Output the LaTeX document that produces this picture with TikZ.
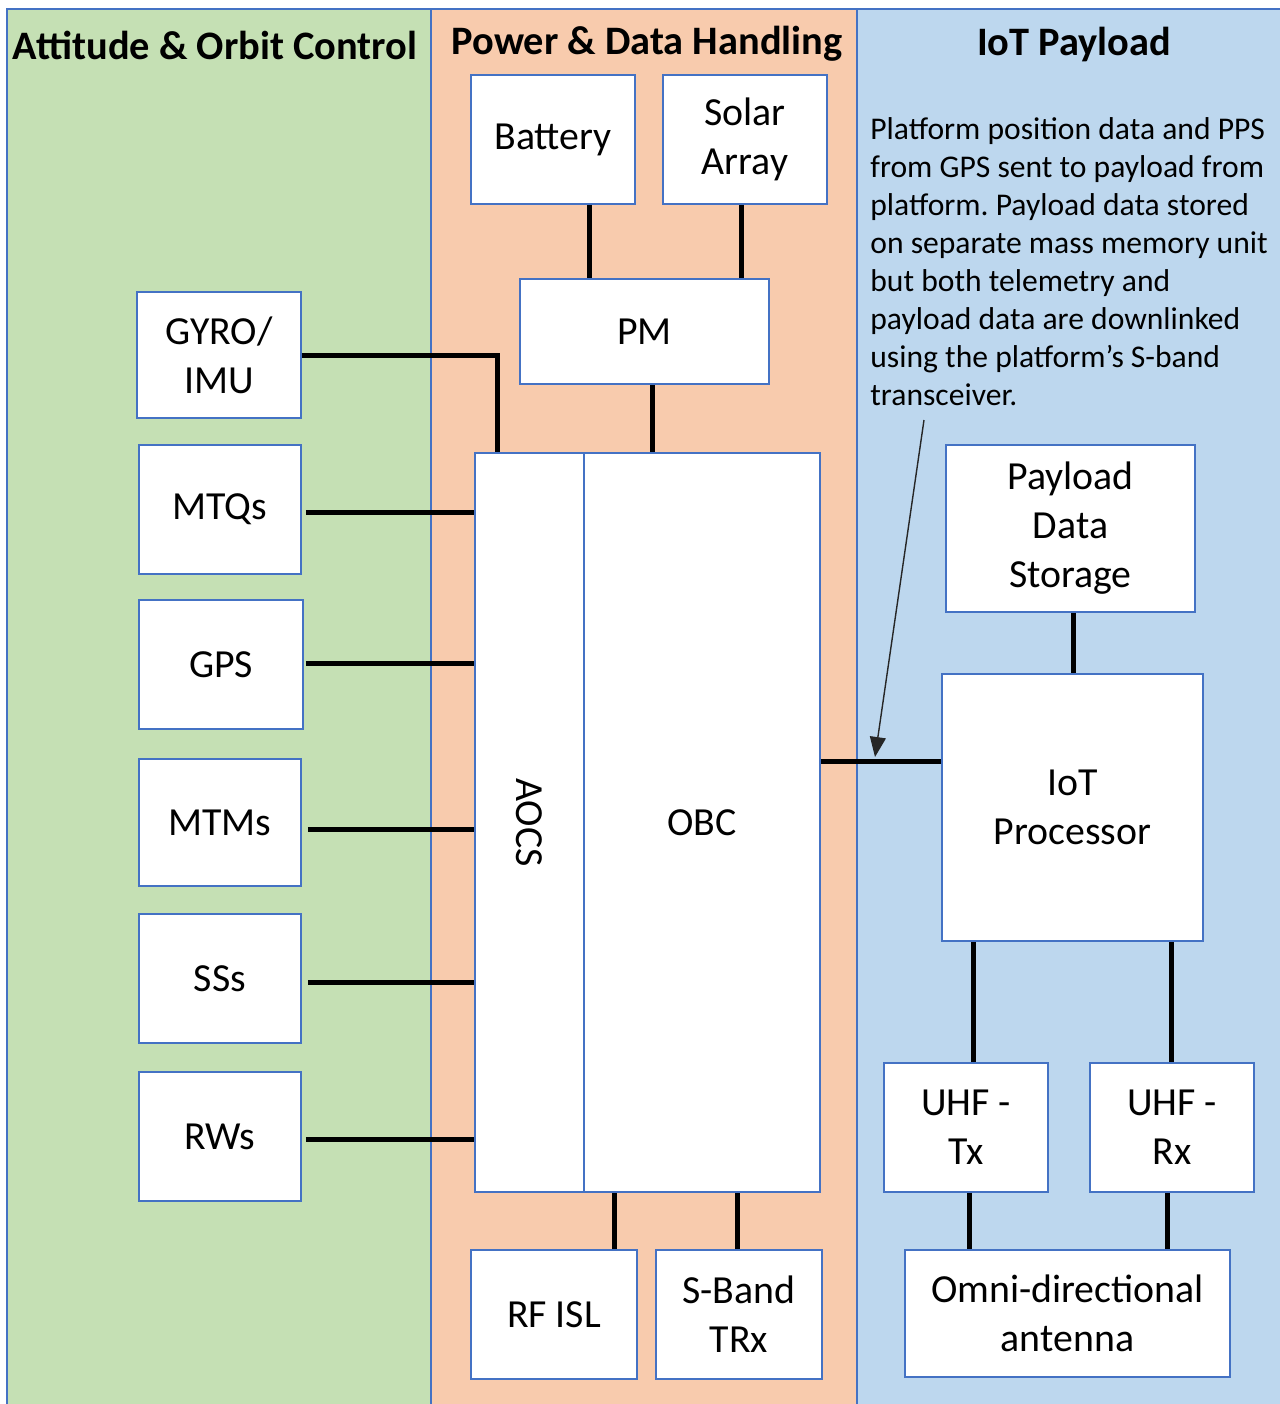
\documentclass[tikz,border=0pt]{standalone}
\usepackage{fontspec}
\setmainfont{Carlito}
\usetikzlibrary{arrows.meta}
\definecolor{aocsgreen}{HTML}{C5E0B4}
\definecolor{pdhorange}{HTML}{F8CBAD}
\definecolor{iotblue}{HTML}{BDD7EE}
\definecolor{edgeblue}{HTML}{4472C4}
\frenchspacing

% \blk{name}{left}{top}{right}{bottom}{text}: a white block given by its corners
\newcommand\blk[7][]{%
  \node[box, #1, minimum width={(#5-#3)*0.5pt}, minimum height={(#6-#4)*0.5pt}]
    (#2) at ({(#3+#5)/2},{(#4+#6)/2}) {#7};}

\begin{document}
\begin{tikzpicture}[x=0.5pt,y=-0.5pt,
  box/.style={draw=edgeblue, line width=0.9pt, fill=white, inner sep=0pt,
    align=center, font=\fontsize{19.9}{24.5}\selectfont},
  panel/.style={draw=edgeblue, line width=1pt},
  link/.style={line width=2.5pt, black},
  header/.style={font=\bfseries\fontsize{20.2}{24}\selectfont},
  note/.style={align=left, inner sep=0pt, font=\fontsize{15.8}{19}\selectfont}]

\useasboundingbox (0,0) rectangle (1280,1404);
\fill[white] (0,0) rectangle (1280,1404);
\begin{scope}
\clip (0,0) rectangle (1280,1404);
% subsystem panels
\draw[panel, fill=aocsgreen] (7,9) rectangle (431,1420);
\draw[panel, fill=pdhorange] (431,9) rectangle (857,1420);
\draw[panel, fill=iotblue] (857,9) rectangle (1300,1420);
\end{scope}

\node[header] (hA) at (215,45) {Attitude \& Orbit Control};
\node[header] (hP) at (647,44) {Power \& Data Handling};
\node[header] (hI) at (1074,44) {IoT Payload};

% power and data handling
\blk{bat}{471}{75}{635}{204}{Battery}
\blk{sol}{663}{75}{827}{204}{Solar\\Array}
\blk{pm}{520}{279}{769}{384}{PM}
\blk{aocs}{475}{453}{584}{1192}{}
\node[rotate=-90, font=\fontsize{19.9}{24.5}\selectfont] (aocslbl) at (aocs.center) {AOCS};
\blk{obc}{584}{453}{820}{1192}{OBC}
\blk{rf}{471}{1250}{637}{1379}{RF ISL}
\blk{sb}{656}{1250}{822}{1379}{S-Band\\TRx}

% attitude and orbit control
\blk{gyro}{137}{292}{301}{418}{GYRO/\\IMU}
\blk{mtq}{139}{445}{301}{574}{MTQs}
\blk{gps}{139}{600}{303}{729}{GPS}
\blk{mtm}{139}{759}{301}{886}{MTMs}
\blk{ss}{139}{914}{301}{1043}{SSs}
\blk{rw}{139}{1072}{301}{1201}{RWs}

% IoT payload
\blk{pds}{946}{445}{1195}{612}{Payload\\Data\\Storage}
\blk{iot}{942}{674}{1203}{941}{IoT\\Processor}
\blk{tx}{884}{1063}{1048}{1192}{UHF -\\Tx}
\blk{rx}{1090}{1063}{1254}{1192}{UHF -\\Rx}
\blk{omni}{905}{1250}{1230}{1377}{Omni-directional\\antenna}

\node[note, anchor=north west] (txt) at (870,117) {Platform position data and PPS\\
from GPS sent to payload from\\
platform. Payload data stored\\
on separate mass memory unit\\
but both telemetry and\\
payload data are downlinked\\
using the platform’s S-band\\
transceiver.};

% power links
\draw[link] ([xshift=18pt]bat.south) -- ([xshift=18pt]bat.south |- pm.north);
\draw[link] ([xshift=-2pt]sol.south) -- ([xshift=-2pt]sol.south |- pm.north);
\draw[link] ([xshift=3.75pt]pm.south) -- ([xshift=3.75pt]pm.south |- obc.north);

% sensor and actuator links
\draw[link] (gyro.east) -| ([xshift=-16.25pt]aocs.north);
\draw[link, shorten <=2pt] ([yshift=-1.25pt]mtq.east) -- ([yshift=-1.25pt]mtq.east -| aocs.west);
\draw[link, shorten <=1pt] ([yshift=0.75pt]gps.east) -- ([yshift=0.75pt]gps.east -| aocs.west);
\draw[link, shorten <=3pt] ([yshift=-3.25pt]mtm.east) -- ([yshift=-3.25pt]mtm.east -| aocs.west);
\draw[link, shorten <=3pt] ([yshift=-1.75pt]ss.east) -- ([yshift=-1.75pt]ss.east -| aocs.west);
\draw[link, shorten <=2pt] ([yshift=-1.25pt]rw.east) -- ([yshift=-1.25pt]rw.east -| aocs.west);

% radio links
\draw[link] ([xshift=30pt]rf.north) -- ([xshift=30pt]rf.north |- obc.south);
\draw[link] ([xshift=-1pt]sb.north) -- ([xshift=-1pt]sb.north |- obc.south);

% payload links
\draw[link] ([yshift=23.25pt]iot.west) -- ([yshift=23.25pt]iot.west -| obc.east);
\draw[link] ([xshift=1.25pt]pds.south) -- ([xshift=1.25pt]pds.south |- iot.north);
\draw[link] ([xshift=3.5pt]tx.north) -- ([xshift=3.5pt]tx.north |- iot.south);
\draw[link] ([xshift=-0.5pt]rx.north) -- ([xshift=-0.5pt]rx.north |- iot.south);
\draw[link] ([xshift=1.5pt]tx.south) -- ([xshift=1.5pt]tx.south |- omni.north);
\draw[link] ([xshift=-2.5pt]rx.south) -- ([xshift=-2.5pt]rx.south |- omni.north);

% annotation arrow
\coordinate (tail) at (924,420);
\coordinate (tip) at (875,757);
\draw[-{Triangle[length=10pt,width=8pt]}, line width=0.7pt, black!85] (tail) -- (tip);
\end{tikzpicture}
\end{document}
